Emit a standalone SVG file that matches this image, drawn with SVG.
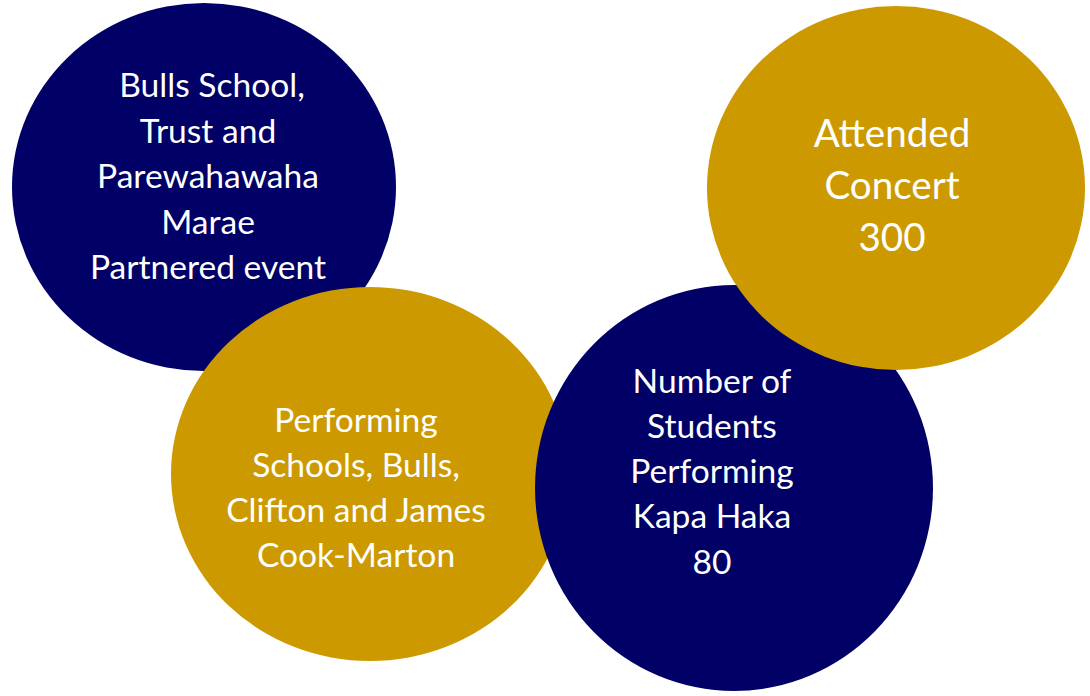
<svg xmlns="http://www.w3.org/2000/svg" width="1090" height="696" viewBox="0 0 1090 696">
  <style>
    .navy { fill: #000066; }
    .gold { fill: #CC9A00; }
    .t { font-family: Lato, "Open Sans", "Liberation Sans", sans-serif; font-size: 33.6px; fill: #FFFFFF; text-anchor: middle; }
    .tb { font-size: 38.6px; }
  </style>
  <rect width="1090" height="696" fill="#FFFFFF"/>
  <g id="node-partners">
    <ellipse class="navy" cx="204" cy="187" rx="192" ry="184"/>
    <text class="t" x="212" y="97">Bulls School,</text>
    <text class="t" x="208" y="142.5">Trust and</text>
    <text class="t" x="208" y="188">Parewahawaha</text>
    <text class="t" x="208" y="233.5">Marae</text>
    <text class="t" x="208" y="279">Partnered event</text>
  </g>
  <g id="node-schools">
    <ellipse class="gold" cx="370" cy="474" rx="199" ry="187"/>
    <text class="t" x="356" y="432">Performing</text>
    <text class="t" x="356" y="477">Schools, Bulls,</text>
    <text class="t" x="356" y="522">Clifton and James</text>
    <text class="t" x="356" y="567">Cook-Marton</text>
  </g>
  <g id="node-students">
    <ellipse class="navy" cx="734" cy="488" rx="199" ry="203"/>
    <text class="t" x="712" y="393">Number of</text>
    <text class="t" x="712" y="438">Students</text>
    <text class="t" x="712" y="483">Performing</text>
    <text class="t" x="712" y="528">Kapa Haka</text>
    <text class="t" x="712" y="574">80</text>
  </g>
  <g id="node-concert">
    <ellipse class="gold" cx="896" cy="188" rx="189" ry="182"/>
    <text class="t tb" x="892" y="147">Attended</text>
    <text class="t tb" x="892" y="199">Concert</text>
    <text class="t tb" x="892" y="251">300</text>
  </g>
  <g id="connectors"></g>
</svg>
